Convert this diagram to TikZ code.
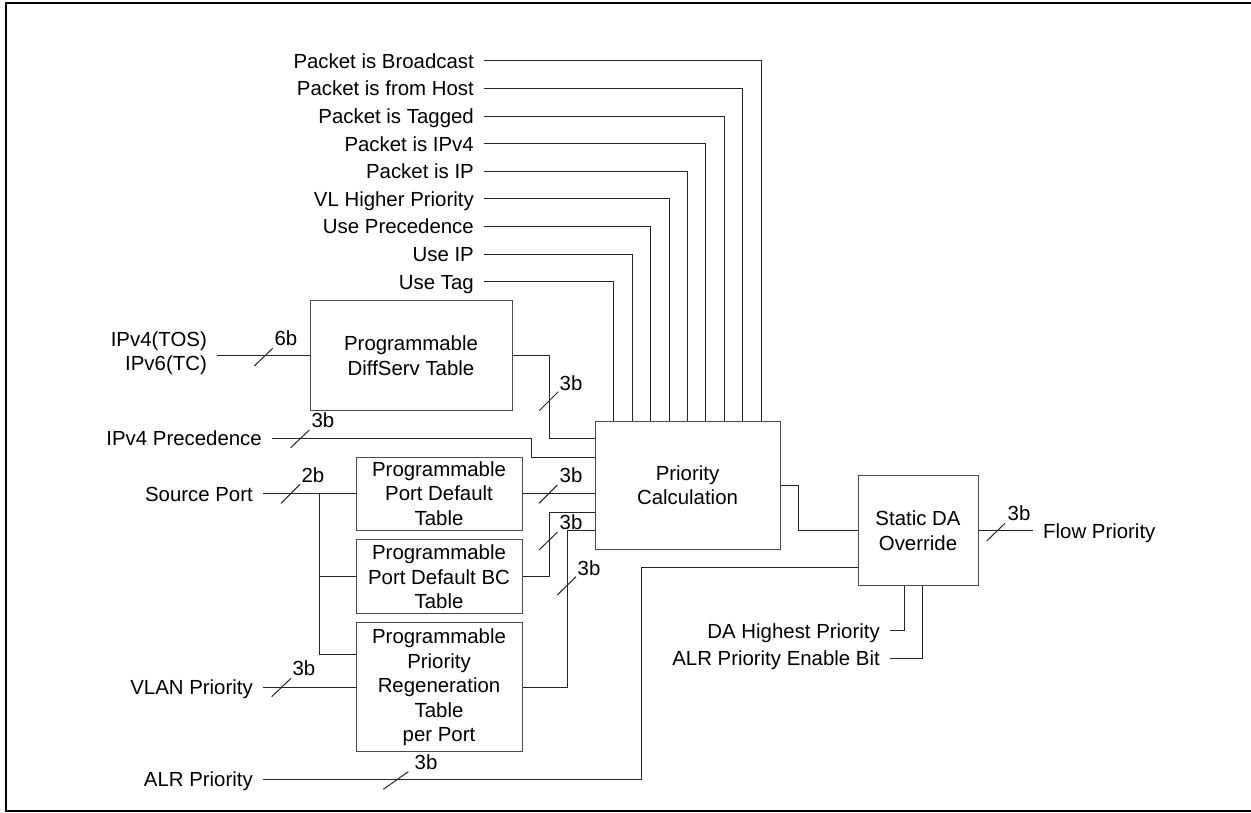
\documentclass[tikz,border=0pt]{standalone}
\usepackage{fontspec}
\setmainfont{Liberation Sans}
\begin{document}
\begin{tikzpicture}[x=1pt,y=-1pt,
  font=\fontsize{20.4}{24.5}\selectfont,
  ln/.style={draw=black!85, line width=1pt},
  box/.style={draw=black!70, line width=1pt, inner sep=0pt, align=center, fill=white},
  lbl/.style={inner ysep=0pt, inner xsep=10pt, text height=14.6pt, text depth=0pt},
  bw/.style={inner sep=0pt}]
\useasboundingbox (0,0) rectangle (1251,813);
\clip (0,0) rectangle (1251,813);
\draw[line width=2pt] (6,3) rectangle (1275,811);

% boxes
\node[box, minimum width=202pt, minimum height=109pt] (DS) at (411,355.5) {Programmable\\DiffServ Table};
\node[box, minimum width=185pt, minimum height=128pt] (PC) at (687.5,485) {Priority\\Calculation};
\node[box, minimum width=120pt, minimum height=110.5pt] (SDA) at (918,530.7) {Static DA\\Override};
\node[box, minimum width=166pt, minimum height=73.3pt] (PDT) at (439,493.7) {Programmable\\Port Default\\Table};
\node[box, minimum width=166pt, minimum height=73.7pt] (BC) at (439,576.8) {Programmable\\Port Default BC\\Table};
\node[box, minimum width=166pt, minimum height=129.3pt] (RG) at (439,687.3) {Programmable\\Priority\\Regeneration\\Table\\per Port};

% helper coordinates
\coordinate (yA) at (0,438.5);
\coordinate (yB) at (0,457);
\coordinate (yC) at (0,512.3);
\coordinate (yD) at (0,530.5);
\coordinate (yE) at (0,654.3);
\coordinate (yF) at (0,567.7);
\coordinate (xDA) at (904,0);
\coordinate (xEn) at (922.3,0);

% top signals
\foreach \i/\txt/\xx in {0/Packet is Broadcast/761, 1/Packet is from Host/742.6, 2/Packet is Tagged/724.2,
  3/Packet is IPv4/705.8, 4/Packet is IP/687.4, 5/VL Higher Priority/669, 6/Use Precedence/650.6,
  7/Use IP/632.2, 8/Use Tag/613.8} {
  \node[lbl, anchor=east] (t\i) at (484,{61+27.6*\i}) {\txt};
  \coordinate (v\i) at (\xx,0);
  \draw[ln] (t\i.east) -| (PC.north -| v\i);
}

% left labels
\node[align=right, anchor=east, inner xsep=10pt, inner ysep=0pt] (lTOS) at (217,353) {IPv4(TOS)\\IPv6(TC)};
\node[lbl, anchor=east] (lPrec) at (272,438.3) {IPv4 Precedence};
\node[lbl, anchor=east] (lSP) at (263,493.7) {Source Port};
\node[lbl, anchor=east] (lVLAN) at (263,687.3) {VLAN Priority};
\node[lbl, anchor=east] (lALR) at (263,779) {ALR Priority};
\node[lbl, anchor=east] (lDA) at (890,630.7) {DA Highest Priority};
\node[lbl, anchor=east] (lEn) at (890,658.3) {ALR Priority Enable Bit};
\node[lbl, anchor=west] (lFlow) at (1033,530.7) {Flow Priority};

% connectors
\draw[ln] (DS.west -| lTOS.east) -- (DS.west);
\draw[ln] (DS.east) -- (549,355.5) -- (549,438.5) -- (PC.west |- yA);
\draw[ln] (lPrec.east) -- (531,438.3) -- (531,457) -- (PC.west |- yB);
\draw[ln] (lSP.east) -- (PDT.west);
\draw[ln] (319,493.7) -- (319,654.3) -- (RG.west |- yE);
\draw[ln] (319,576.8) -- (BC.west);
\draw[ln] (lVLAN.east) -- (RG.west);
\draw[ln] (PDT.east) -- (PC.west |- PDT.east);
\draw[ln] (BC.east) -- (549,576.8) -- (549,512.3) -- (PC.west |- yC);
\draw[ln] (RG.east) -- (567.7,687.3) -- (567.7,530.5) -- (PC.west |- yD);
\draw[ln] (lALR.east) -- (641.7,779) -- (641.7,567.7) -- (SDA.west |- yF);
\draw[ln] (PC.east) -- (798,485) -- (798,530.7) -- (SDA.west);
\draw[ln] (SDA.east) -- (lFlow.west);
\draw[ln] (SDA.south -| xDA) -- (904,630.7) -- (lDA.east);
\draw[ln] (SDA.south -| xEn) -- (922.3,658.3) -- (lEn.east);

% bus width marks
\draw[ln] (254.3,366) -- (272.7,348.3);   \node[bw] (b1) at (286,338) {6b};
\draw[ln] (539.3,410.7) -- (558.3,391.7); \node[bw] (b2) at (571,383) {3b};
\draw[ln] (290.7,447.7) -- (309.3,430);   \node[bw] (b3) at (323,420) {3b};
\draw[ln] (281,503.3) -- (300,484.3);     \node[bw] (b4) at (313,475) {2b};
\draw[ln] (539,503.3) -- (557.3,485);     \node[bw] (b5) at (571,475) {3b};
\draw[ln] (539,550) -- (557.3,532.3);     \node[bw] (b6) at (571,522) {3b};
\draw[ln] (557.3,595) -- (576,576.7);     \node[bw] (b7) at (589,568) {3b};
\draw[ln] (271.7,696.7) -- (291,678.3);   \node[bw] (b8) at (304,668) {3b};
\draw[ln] (383.3,789.3) -- (408.3,771.7); \node[bw] (b9) at (426,762) {3b};
\draw[ln] (986.7,541) -- (1005,523.3);    \node[bw] (b10) at (1019,513) {3b};
\end{tikzpicture}
\end{document}
